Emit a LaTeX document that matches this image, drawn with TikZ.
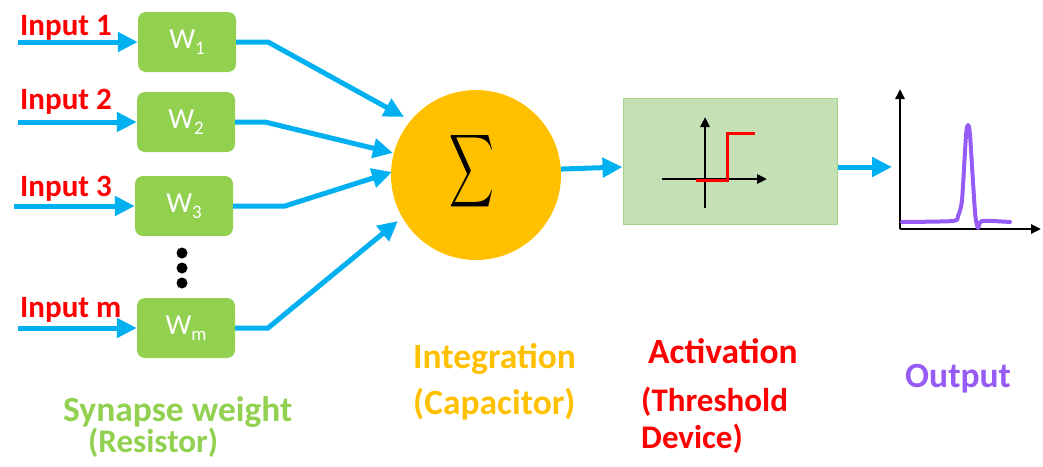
\documentclass[tikz,border=0pt]{standalone}
\usepackage{fontspec}
\setmainfont{Carlito}
\usepackage{xcolor}
\usepackage{tikz}
\usetikzlibrary{arrows.meta}

\definecolor{wireblue}{RGB}{0,176,240}
\definecolor{weightgreen}{RGB}{146,208,80}
\definecolor{sumgold}{RGB}{255,192,0}
\definecolor{actfill}{RGB}{197,224,180}
\definecolor{actedge}{RGB}{169,209,142}
\definecolor{outpurple}{RGB}{150,90,245}

\newcommand{\wsub}[1]{W\raisebox{-0.45ex}{\fontsize{19}{21}\selectfont #1}}

\tikzset{
  wire/.style={draw=wireblue, line width=5pt, -{Triangle[length=20pt,width=19pt]}},
  weightbox/.style={fill=weightgreen, rounded corners=8pt, minimum width=98pt, minimum height=60pt, text=white, font=\fontsize{29}{32}\selectfont},
  inlabel/.style={anchor=base west, text=red, inner sep=0pt, font=\fontsize{31}{34}\selectfont\bfseries},
  partlabel/.style={anchor=base west, inner sep=0pt, font=\fontsize{35.5}{40}\selectfont\bfseries},
  sublabel/.style={partlabel, font=\fontsize{33}{38}\selectfont\bfseries},
  smallaxis/.style={draw=black, line width=2.5pt, -{Triangle[length=10pt,width=9pt]}},
}

\begin{document}
\begin{tikzpicture}[x=1pt,y=-1pt]
\useasboundingbox (0,0) rectangle (1043,466);

% synapse weights
\node[weightbox] (w1) at (187,42) {\wsub{1}};
\node[weightbox] (w2) at (186,122) {\wsub{2}};
\node[weightbox] (w3) at (184,206) {\wsub{3}};
\node[weightbox] (wm) at (186,328) {\wsub{m}};
\foreach \y/\n in {253/a,268/b,283/c}
  \fill (182,\y) circle (5.5pt) coordinate (dot\n);

% inputs
\node[inlabel] (in1) at (20,35) {Input 1};
\node[inlabel] (in2) at (20,109) {Input 2};
\node[inlabel] (in3) at (20,196) {Input 3};
\node[inlabel] (inm) at (20,317) {Input m};
\coordinate (s1) at (18,42);
\coordinate (s2) at (18,122);
\coordinate (s3) at (14,206);
\coordinate (sm) at (18,328);
\draw[wire] (s1) -- (w1.west);
\draw[wire] (s2) -- (w2.west);
\draw[wire] (s3) -- (w3.west);
\draw[wire] (sm) -- (wm.west);

% integration
\node[circle, fill=sumgold, minimum size=170pt, inner sep=0pt] (sum) at (476,175) {};
\node (sigma) at (472,171) {\scalebox{3.1}[5.1]{$\displaystyle\sum$}};
\coordinate (b1) at (268,42);
\coordinate (b2) at (265,122);
\coordinate (b3) at (285,206);
\coordinate (bm) at (268,328);
\coordinate (t1) at (404,117);
\coordinate (t2) at (393,153);
\coordinate (t3) at (392,172);
\coordinate (tm) at (398,221);
\draw[wire] (w1.east) -- (b1) -- (t1);
\draw[wire] (w2.east) -- (b2) -- (t2);
\draw[wire] (w3.east) -- (b3) -- (t3);
\draw[wire] (wm.east) -- (bm) -- (tm);

% activation
\node[draw=actedge, fill=actfill, line width=1pt, minimum width=214pt, minimum height=126pt, inner sep=0pt] (act) at (730,161) {};
\draw[wire] (sum.4) -- ([yshift=-6pt]act.west);
\draw[smallaxis] (662,179) -- (767,179);
\draw[smallaxis] (705,208) -- (705,117);
\draw[red, line width=3pt] (696,180) -- (727,180) -- (727,133) -- (755,133);

% output
\coordinate (out) at (892,167);
\draw[wire] ([yshift=-6pt]act.east) -- (out);
\coordinate (o) at (900,229);
\coordinate (ytop) at (900,89);
\coordinate (xend) at (1041,229);
\draw[smallaxis] (o) -- (ytop);
\draw[smallaxis] (o) -- (xend);
\draw[outpurple, line width=4pt, line join=round, line cap=round] plot[smooth, tension=0.4] coordinates {(902,222) (953,221) (958,216) (962,200) (966,135) (968,125) (970,135) (975,212) (978,228) (982,221) (1010,222)};

% captions
\node[partlabel, text=weightgreen] (syn) at (63,421) {Synapse weight};
\node[sublabel, text=weightgreen] (res) at (88,452) {(Resistor)};
\node[partlabel, text=sumgold] (integ) at (413,368) {Integration};
\node[partlabel, text=sumgold] (cap) at (413,414) {(Capacitor)};
\node[partlabel, text=red] (actlbl) at (648,363) {Activation};
\node[sublabel, text=red] (thr) at (641,411) {(Threshold};
\node[sublabel, text=red] (dev) at (641,448) {Device)};
\node[partlabel, text=outpurple] (outlbl) at (905,387) {Output};
\end{tikzpicture}
\end{document}
